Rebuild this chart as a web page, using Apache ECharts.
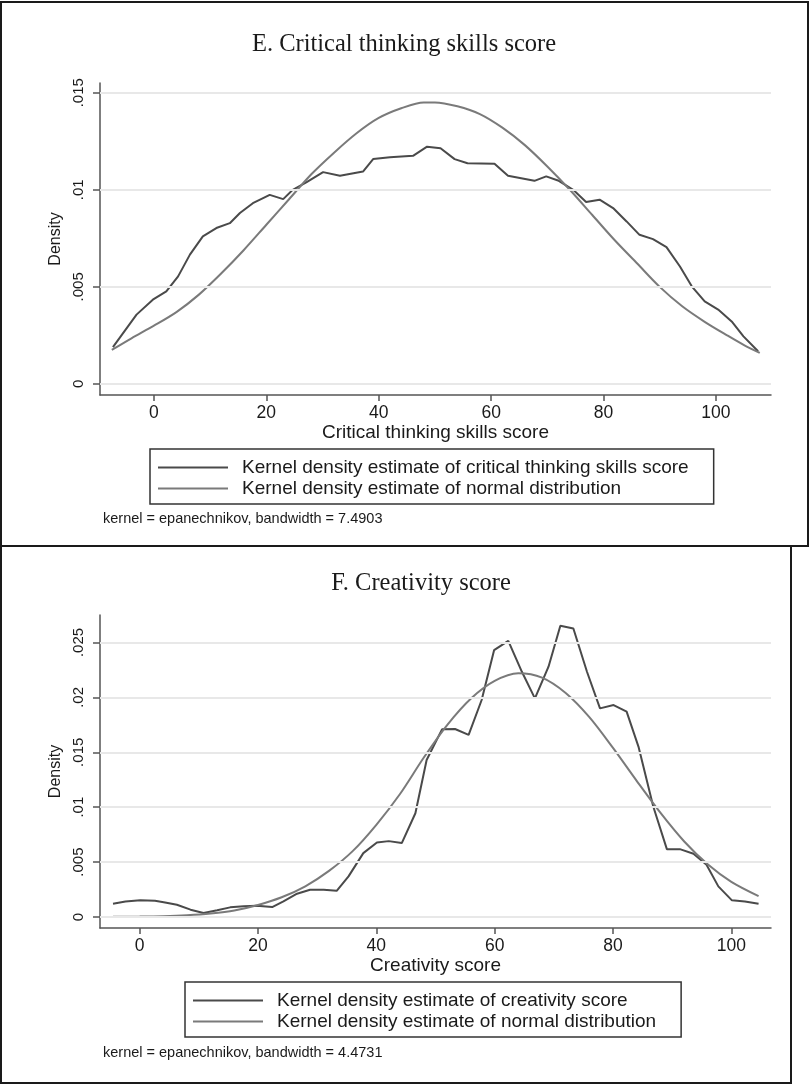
<!DOCTYPE html>
<html>
<head>
<meta charset="utf-8">
<script src="https://cdn.jsdelivr.net/npm/echarts@6/dist/echarts.min.js"></script>
<style>
  html, body { margin: 0; padding: 0; background: #fff; }
  #main { width: 811px; height: 1085px; }
</style>
</head>
<body>
<div id="main"></div>
<script>
// panel E: critical thinking skills score
var critX = [-7.3,-3.1,-0.2,2.2,4.3,6.4,8.7,11.1,13.5,15.3,17.6,20.6,23.0,24.7,27.1,30.1,33.1,37.2,39.0,42.0,46.1,48.6,51.0,53.5,55.8,60.6,63.0,67.7,69.8,71.9,74.6,76.9,79.3,81.7,84.1,86.4,88.8,91.2,93.6,95.7,98.0,100.4,102.8,104.9,107.5];
var critKde = [.0019,.00357,.00434,.00477,.00554,.00666,.0076,.00803,.00828,.0088,.00931,.00974,.00952,.0100,.01038,.01091,.01072,.01094,.01158,.01168,.01175,.01222,.01214,.01158,.01137,.01134,.01072,.01046,.01069,.01048,.0100,.00937,.00949,.00906,.00837,.00768,.00746,.00705,.00605,.00503,.00425,.00383,.00322,.00245,.00168];
var critNormX = [-7.5,-4,0,4,8,12,16,20,24,28,32,36,40,44,48,50,54,58,62,66,70,74,78,82,86,90,94,98,102,105,107.8];
var critNorm = [.00175,.00235,.0030,.0037,.0046,.0057,.0069,.0082,.0095,.0108,.0119,.0129,.0137,.0142,.0145,.0145,.0143,.0139,.0132,.0123,.0112,.0100,.0087,.0074,.0062,.0050,.0040,.0032,.0025,.0020,.0016];
var critYTicks = [0,.005,.01,.015];

// panel F: creativity score
var creaX = [-4.5,-2.4,0.1,2.6,4.3,6.3,8.6,10.8,13.1,15.3,17.6,19.8,22.4,24.3,26.6,28.8,31.1,33.3,35.3,37.8,40.1,42.1,44.3,46.6,48.5,51.1,53.3,55.6,57.8,59.9,62.3,64.6,66.8,69.1,71.1,73.3,75.6,77.8,80.1,82.3,84.3,86.8,89.1,91.3,93.6,95.8,97.8,100.1,102.3,104.6];
var creaKde = [.00121,.00142,.00152,.00148,.00133,.00112,.00067,.00036,.00061,.00088,.00097,.00103,.00091,.00142,.00212,.00248,.00248,.00239,.0037,.00582,.00679,.00691,.00673,.00945,.0143,.01709,.01712,.01658,.01976,.0243,.02515,.02233,.01991,.02279,.02652,.02627,.02233,.019,.0193,.0187,.01552,.01006,.00618,.00618,.00576,.00476,.00279,.00152,.00142,.00121];
var creaNormX = [-4.5,0,4,8,12,16,20,24,28,32,36,40,44,48,52,56,60,64,68,72,76,80,84,88,92,96,100,104.6];
var creaNorm = [.00002,.00004,.00008,.00017,.00033,.0006,.0011,.0018,.0028,.0042,.0060,.0084,.0112,.0145,.0175,.0199,.0215,.0222,.0218,.0204,.0182,.0154,.0124,.0095,.0069,.0048,.0032,.0019];
var creaYTicks = [0,.005,.01,.015,.02,.025];

var xTicks = [0,20,40,60,80,100];

var sans = 'Liberation Sans';
var ink = '#1a1a1a';
var kdeColor = '#4a4a4a';
var normColor = '#7a7a7a';

function pairs(xs, ys) {
  return xs.map(function (x, i) { return [x, ys[i]]; });
}
function fmtY(v) {
  return v === 0 ? '0' : String(v).replace(/^0/, '');
}

function xAxisFor(idx, min, max, name) {
  return {
    type: 'value', gridIndex: idx, min: min, max: max, z: 2,
    name: name, nameLocation: 'middle', nameGap: 28,
    nameTextStyle: { fontFamily: sans, fontSize: 19, color: ink },
    axisLine: { onZero: false, lineStyle: { color: '#555', width: 1.5 } },
    axisTick: { customValues: xTicks, length: 6, lineStyle: { color: '#555', width: 1.5 } },
    axisLabel: { customValues: xTicks, margin: 9, fontFamily: sans, fontSize: 17.5, color: ink },
    splitLine: { show: false }
  };
}
function yAxisFor(idx, min, max, ticks) {
  return {
    type: 'value', gridIndex: idx, min: min, max: max, z: 2,
    name: 'Density', nameLocation: 'middle', nameGap: 29, nameRotate: 90,
    nameTextStyle: { fontFamily: sans, fontSize: 16, color: ink },
    axisLine: { show: true, onZero: false, lineStyle: { color: '#555', width: 1.5 } },
    axisTick: { show: true, customValues: ticks, length: 7, lineStyle: { color: '#555', width: 1.5 } },
    axisLabel: { customValues: ticks, rotate: 90, margin: 14, fontFamily: sans, fontSize: 15, color: ink, formatter: fmtY },
    splitLine: { show: false }
  };
}
function gridLines(idx, ticks) {
  return {
    type: 'line', xAxisIndex: idx, yAxisIndex: idx, data: [], z: 1, silent: true,
    markLine: {
      silent: true, symbol: 'none', animation: false, precision: 4,
      label: { show: false },
      lineStyle: { color: '#e8e8e8', width: 2, type: 'solid' },
      data: ticks.map(function (v) { return { yAxis: v }; })
    }
  };
}
function curve(idx, name, data, color, smooth) {
  return {
    type: 'line', name: name, xAxisIndex: idx, yAxisIndex: idx,
    data: data, showSymbol: false, symbol: 'none', smooth: smooth, z: 3,
    lineStyle: { color: color, width: 2 }, itemStyle: { color: color }
  };
}
function legendFor(left, top, names) {
  return {
    left: left, top: top, orient: 'vertical', data: names,
    borderColor: '#333', borderWidth: 1.5, borderRadius: 0,
    padding: [9, 25, 6, 8], itemGap: 2, itemWidth: 70, itemHeight: 2,
    icon: 'rect', selectedMode: false,
    textStyle: { fontFamily: sans, fontSize: 19, color: ink, lineHeight: 17, padding: [0, 0, 0, 9] }
  };
}

var chart = echarts.init(document.getElementById('main'));
chart.setOption({
  animation: false,
  backgroundColor: '#fff',
  title: [
    { text: 'E. Critical thinking skills score', left: 404, top: 32, textAlign: 'center', padding: 0,
      textStyle: { fontFamily: 'Liberation Serif', fontSize: 24.5, fontWeight: 'normal', color: ink } },
    { text: 'F. Creativity score', left: 421, top: 571, textAlign: 'center', padding: 0,
      textStyle: { fontFamily: 'Liberation Serif', fontSize: 24.5, fontWeight: 'normal', color: ink } },
    { text: 'kernel = epanechnikov, bandwidth = 7.4903', left: 103, top: 511, padding: 0,
      textStyle: { fontFamily: sans, fontSize: 14.5, fontWeight: 'normal', color: ink } },
    { text: 'kernel = epanechnikov, bandwidth = 4.4731', left: 103, top: 1045, padding: 0,
      textStyle: { fontFamily: sans, fontSize: 14.5, fontWeight: 'normal', color: ink } }
  ],
  grid: [
    { left: 100, top: 83, width: 671, height: 312 },
    { left: 100, top: 615, width: 671, height: 313 }
  ],
  xAxis: [
    xAxisFor(0, -9.6, 109.8, 'Critical thinking skills score'),
    xAxisFor(1, -6.7, 106.7, 'Creativity score')
  ],
  yAxis: [
    yAxisFor(0, -0.00057, 0.0155, critYTicks),
    yAxisFor(1, -0.001, 0.0275, creaYTicks)
  ],
  legend: [
    legendFor(150, 449, ['Kernel density estimate of critical thinking skills score', 'Kernel density estimate of normal distribution']),
    legendFor(185, 982, ['Kernel density estimate of creativity score', 'Kernel density estimate of normal distribution'])
  ],
  series: [
    gridLines(0, critYTicks),
    curve(0, 'Kernel density estimate of critical thinking skills score', pairs(critX, critKde), kdeColor, false),
    curve(0, 'Kernel density estimate of normal distribution', pairs(critNormX, critNorm), normColor, 0.3),
    gridLines(1, creaYTicks),
    curve(1, 'Kernel density estimate of creativity score', pairs(creaX, creaKde), kdeColor, false),
    curve(1, 'Kernel density estimate of normal distribution', pairs(creaNormX, creaNorm), normColor, 0.3)
  ],
  graphic: [
    { type: 'rect', shape: { x: 1, y: 2, width: 807, height: 544 }, style: { fill: 'none', stroke: '#1a1a1a', lineWidth: 2 } },
    { type: 'rect', shape: { x: 1, y: 546, width: 790, height: 537 }, style: { fill: 'none', stroke: '#1a1a1a', lineWidth: 2 } }
  ]
});
</script>
</body>
</html>
